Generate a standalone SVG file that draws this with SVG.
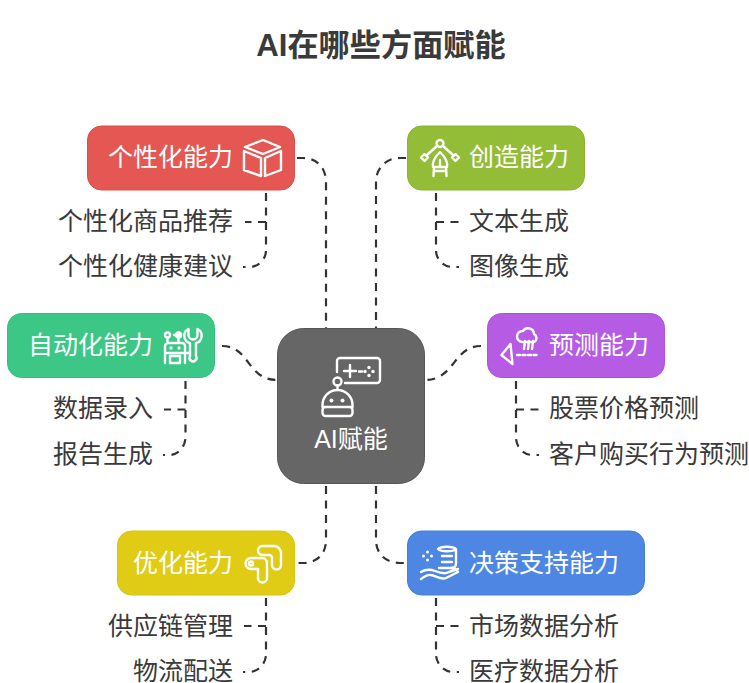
<svg xmlns="http://www.w3.org/2000/svg" width="749" height="683" viewBox="0 0 749 683">
<style>
text{font-family:"Liberation Sans","Noto Sans CJK SC",sans-serif;font-size:25px;fill:#3a3a3a}
.title{font-size:31.200px;font-weight:700;text-anchor:middle}
text.w{fill:#fff}
.e{text-anchor:end}
.box{stroke-width:1}
.ic{fill:none;stroke:#fff;stroke-width:2.400;stroke-linecap:round;stroke-linejoin:round}
.dot{fill:#fff;stroke:none}
#connectors path{fill:none;stroke:#333;stroke-width:2.200;stroke-dasharray:8 6.500}
</style>
<rect width="749" height="683" fill="#fff"/>
<text class="title" x="381" y="56">AI在哪些方面赋能</text>
<g id="connectors">
<path d="M297 158H303C317 158 326 168 326 182V328"/>
<path d="M406 158H400C386 158 376 168 376 182V328"/>
<path d="M222 346C250 346 247 380 277 380"/>
<path d="M481 346C453 346 455 380 425 380"/>
<path d="M326 486V540C326 554 317 563 303 563H297"/>
<path d="M376 486V540C376 554 386 563 400 563H406"/>
<path d="M266 193V250C266 260 258 267 249 267H243"/>
<path d="M266 222H245"/>
<path d="M436 193V250C436 260 444 267 453 267H459"/>
<path d="M436 222H459"/>
<path d="M185.500 381V437C185.500 447 178 455 169 455H163"/>
<path d="M185.500 409.500H164"/>
<path d="M516 381V437C516 447 523 455 533 455H539"/>
<path d="M516 409.500H539"/>
<path d="M266 598V654C266 664 258 672 249 672H243"/>
<path d="M266 626H244"/>
<path d="M436 598V654C436 664 444 672 453 672H459"/>
<path d="M436 626H459"/>
</g>
<g id="center">
<rect class="box" x="277.500" y="328.500" width="147" height="155" rx="26" fill="#666" stroke="#555"/>
<path class="ic" d="M337 372V361a3 3 0 0 1 3-3H377a3 3 0 0 1 3 3V380a3 3 0 0 1-3 3H345M344 371H356M350 365V377M359 371.500H362"/>
<g class="dot"><circle cx="369" cy="367.500" r="1.700"/><circle cx="369" cy="375.500" r="1.700"/><circle cx="365" cy="371.500" r="1.700"/><circle cx="373" cy="371.500" r="1.700"/></g>
<circle class="ic" cx="337.500" cy="381.500" r="4"/>
<path class="ic" d="M337.500 385.500V390M322.500 407V405a15 15 0 0 1 30 0V407ZM325.500 407H349.500a3 3 0 0 1 3 3V413a3 3 0 0 1-3 3H325.500a3 3 0 0 1-3-3V410a3 3 0 0 1 3-3Z"/>
<circle class="dot" cx="331.500" cy="400.500" r="2"/><circle class="dot" cx="342.500" cy="400.500" r="2"/>
<text class="w" x="351" y="447.500" text-anchor="middle">AI赋能</text>
</g>
<g id="n-personal">
<rect class="box" x="87.500" y="126" width="207" height="64" rx="14" fill="#e55753" stroke="#dc4e4a"/>
<text class="w e" x="233" y="166">个性化能力</text>
<path class="ic" d="M263 140L280 147L263 154L245 147ZM244 151L261 158V176L244 170ZM265 158L281 151V170L265 176Z"/>
</g>
<g id="n-personal-1"><text class="e" x="233" y="229.500">个性化商品推荐</text></g>
<g id="n-personal-2"><text class="e" x="233" y="274.500">个性化健康建议</text></g>
<g id="n-create">
<rect class="box" x="407.500" y="126" width="177" height="64" rx="14" fill="#93bc37" stroke="#8ab330"/>
<text class="w" x="469" y="166">创造能力</text>
<path class="ic" d="M437.500 145.500L427 155M442.500 145.500L453 155M424.500 154L428 157.500L424.500 161L421 157.500ZM455.500 154L459 157.500L455.500 161L452 157.500ZM440 152C446 158 448 162 447 167H433C432 162 434 158 440 152ZM440 160V167M434 167L433.500 176M446 167L446.500 176M434 171H446"/>
<circle class="ic" cx="440" cy="143.500" r="3.500"/>
</g>
<g id="n-create-1"><text x="469" y="229.500">文本生成</text></g>
<g id="n-create-2"><text x="469" y="274.500">图像生成</text></g>
<g id="n-auto">
<rect class="box" x="7.500" y="313.500" width="207" height="64" rx="14" fill="#3dc787" stroke="#36be7f"/>
<text class="w e" x="153" y="353.500">自动化能力</text>
<path class="ic" d="M167.500 338V343M178.500 338V343M168 343H182a3 3 0 0 1 3 3V353H165V346a3 3 0 0 1 3-3ZM165 353V363M185 353H190M170 363V356H180V363M185 353V363M170 363H180M181 335H174"/>
<path class="ic" d="M188.500 329A7.500 7.500 0 0 0 190 343V356A3.500 3.500 0 1 0 196 356V343A7.500 7.500 0 0 0 197.500 329V335A4.500 4.500 0 0 1 188.500 335Z"/>
<circle class="ic" cx="167.500" cy="335" r="2.500"/><circle class="ic" cx="178.500" cy="335" r="2.500"/>
<circle class="dot" cx="171" cy="348" r="1.700"/><circle class="dot" cx="179" cy="348" r="1.700"/>
</g>
<g id="n-auto-1"><text class="e" x="153" y="417">数据录入</text></g>
<g id="n-auto-2"><text class="e" x="153" y="462.500">报告生成</text></g>
<g id="n-predict">
<rect class="box" x="487.500" y="313.500" width="177" height="64" rx="14" fill="#b65be4" stroke="#ad52dc"/>
<text class="w" x="549" y="353.500">预测能力</text>
<path class="ic" d="M501.500 355L510.500 344L512.500 364ZM522 342H534A4.500 4.500 0 0 0 534 334A6 6 0 0 0 523 331A5.500 5.500 0 0 0 522 342ZM525 341L524 349M529 341L528 349M533 341L532 349"/>
<path class="ic" stroke-dasharray="3 2.500" d="M517 355H537"/>
</g>
<g id="n-predict-1"><text x="549" y="417">股票价格预测</text></g>
<g id="n-predict-2"><text x="549" y="462.500">客户购买行为预测</text></g>
<g id="n-optimize">
<rect class="box" x="117.500" y="531" width="177" height="64" rx="14" fill="#e0cc14" stroke="#d8c410"/>
<text class="w e" x="233" y="571.500">优化能力</text>
<path class="ic" d="M258 551a4.500 4.500 0 0 1 4.500-5H274a7 7 0 0 1 7 7V565a4.500 4.500 0 0 1-9 0V558a3 3 0 0 0-3-3H262.500a4.500 4.500 0 0 1-4.500-4ZM251 558H262a5 5 0 0 1 5 5V578a4.500 4.500 0 0 1-9 0V569H251a5.500 5.500 0 0 1 0-11Z"/>
<circle class="ic" cx="251" cy="563.500" r="2"/>
</g>
<g id="n-optimize-1"><text class="e" x="233" y="634.500">供应链管理</text></g>
<g id="n-optimize-2"><text class="e" x="233" y="679.500">物流配送</text></g>
<g id="n-decide">
<rect class="box" x="407.500" y="531" width="237" height="64" rx="14" fill="#4d87e3" stroke="#4580dd"/>
<text class="w" x="469" y="571.500">决策支持能力</text>
<path class="ic" d="M438 549C441 546 453 546 456 549V564C456 567 453 568 450 568H439M438 549C441 552 453 552 456 549M442 556H452M442 562H452M421 572C426 569 430 569 435 571C440 573 446 574 449 572L458 569M450 568C454 568 457 570 458 572L446 578C441 580 436 576 431 575C427 574 424 577 421 579"/>
<g class="dot"><circle cx="427.500" cy="552" r="1.500"/><circle cx="427.500" cy="560" r="1.500"/><circle cx="423.500" cy="556" r="1.500"/><circle cx="431.500" cy="556" r="1.500"/></g>
</g>
<g id="n-decide-1"><text x="469" y="634.500">市场数据分析</text></g>
<g id="n-decide-2"><text x="469" y="679.500">医疗数据分析</text></g>
</svg>
